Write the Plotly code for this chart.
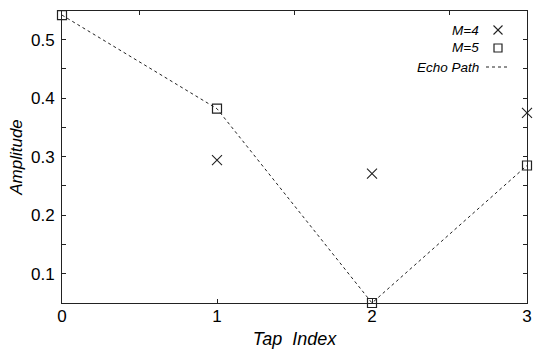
import plotly.graph_objects as go

tap_index = [0, 1, 2, 3]
m4_values = [None, 0.294, 0.271, 0.375]
m5_values = [0.542, 0.382, 0.05, 0.285]
echo_path = [0.542, 0.382, 0.05, 0.285]
x_ticks = [0, 1, 2, 3]
y_ticks = [0.1, 0.2, 0.3, 0.4, 0.5]
y_tick_labels = ["0.1", "0.2", "0.3", "0.4", "0.5"]

FONT = "Liberation Sans, Arial, sans-serif"
INK = "#222222"

# target plot area (page pixels): x 62..527, y 11..303
W, H = 536, 354
L, T = 62, 11
R = W - 527
B = H - 303
PW, PH = W - L - R, H - T - B

fig = go.Figure()
fig.add_trace(go.Scatter(x=tap_index, y=echo_path, mode="lines", name="Echo Path",
                         line=dict(color=INK, width=1, dash="3px,3px"), cliponaxis=False))
fig.add_trace(go.Scatter(x=tap_index, y=m4_values, mode="markers", name="M=4",
                         marker=dict(symbol="x-thin", size=10, line=dict(color=INK, width=1.1)),
                         cliponaxis=False))
fig.add_trace(go.Scatter(x=tap_index, y=m5_values, mode="markers", name="M=5",
                         marker=dict(symbol="square-open", size=9, color=INK, line=dict(width=1.2)),
                         cliponaxis=False))

# top-axis minor ticks via overlay axis
fig.add_trace(go.Scatter(x=[0, 3], y=[None, None], xaxis="x2", showlegend=False, hoverinfo="skip"))

fig.update_layout(
    width=W, height=H, autosize=False,
    margin=dict(l=L, r=R, t=T, b=B, pad=0, autoexpand=False),
    paper_bgcolor="white", plot_bgcolor="white",
    showlegend=False,
    font=dict(family=FONT, color="black"),
    xaxis=dict(range=[0, 3], tickvals=x_ticks, ticktext=[str(v) for v in x_ticks],
               ticks="inside", ticklen=4, tickcolor=INK, showline=True, linecolor=INK,
               linewidth=1, mirror=True, showgrid=False, zeroline=False, automargin=False,
               tickfont=dict(size=17, family=FONT), ticklabelstandoff=-2,
               ticklabeloverflow="allow",
               title=dict(text="<i>Tap  Index</i>", font=dict(size=18, family=FONT), standoff=6)),
    xaxis2=dict(range=[0, 3], overlaying="x", side="top", tickvals=[0.5, 1.5, 2.5],
                ticks="inside", ticklen=4, tickcolor=INK, showticklabels=False, automargin=False,
                showline=False, showgrid=False, zeroline=False),
    yaxis=dict(range=[0.05, 0.549], tickvals=y_ticks, ticktext=y_tick_labels,
               ticks="inside", ticklen=4, tickcolor=INK, showline=True, linecolor=INK,
               linewidth=1, mirror="allticks", showgrid=False, zeroline=False, automargin=False,
               minor=dict(tickvals=[0.15, 0.25, 0.35, 0.45], ticks="inside", ticklen=4, tickcolor=INK),
               tickfont=dict(size=17, family=FONT), ticklabelstandoff=3,
               title=dict(text="<i>Amplitude</i>", font=dict(size=17, family=FONT), standoff=4)),
)

def px2paper(xp, yp):
    # page pixels -> paper coords
    return (xp - L) / PW, 1 - (yp - T) / PH

# custom legend (text on the left, symbol on the right)
legend_rows = [("M=4", 30), ("M=5", 48), ("Echo Path", 67)]
for label, ypx in legend_rows:
    px, py = px2paper(481, ypx)
    fig.add_annotation(xref="paper", yref="paper", x=px, y=py,
                       text=f"<i>{label}</i>", showarrow=False, xanchor="right", yanchor="middle",
                       font=dict(size=13.5, family=FONT, color="black"))

# × symbol
cx, cy, h = 498, 30, 4.5
for (x0, y0, x1, y1) in [(cx - h, cy - h, cx + h, cy + h), (cx - h, cy + h, cx + h, cy - h)]:
    a = px2paper(x0, y0); b = px2paper(x1, y1)
    fig.add_shape(type="line", xref="paper", yref="paper", x0=a[0], y0=a[1], x1=b[0], y1=b[1],
                  line=dict(color=INK, width=1.1))
# square symbol
cx, cy, h = 498, 48, 4
a = px2paper(cx - h, cy - h); b = px2paper(cx + h, cy + h)
fig.add_shape(type="rect", xref="paper", yref="paper", x0=a[0], y0=a[1], x1=b[0], y1=b[1],
              line=dict(color=INK, width=1.2))
# dashed line symbol
a = px2paper(486, 67); b = px2paper(510, 67)
fig.add_shape(type="line", xref="paper", yref="paper", x0=a[0], y0=a[1], x1=b[0], y1=b[1],
              line=dict(color=INK, width=1, dash="3px,3px"))

fig.write_html("out.html",
               config=dict(displayModeBar=False, responsive=False, staticPlot=True),
               post_script="document.body.style.margin='0';document.body.style.overflow='hidden';")
